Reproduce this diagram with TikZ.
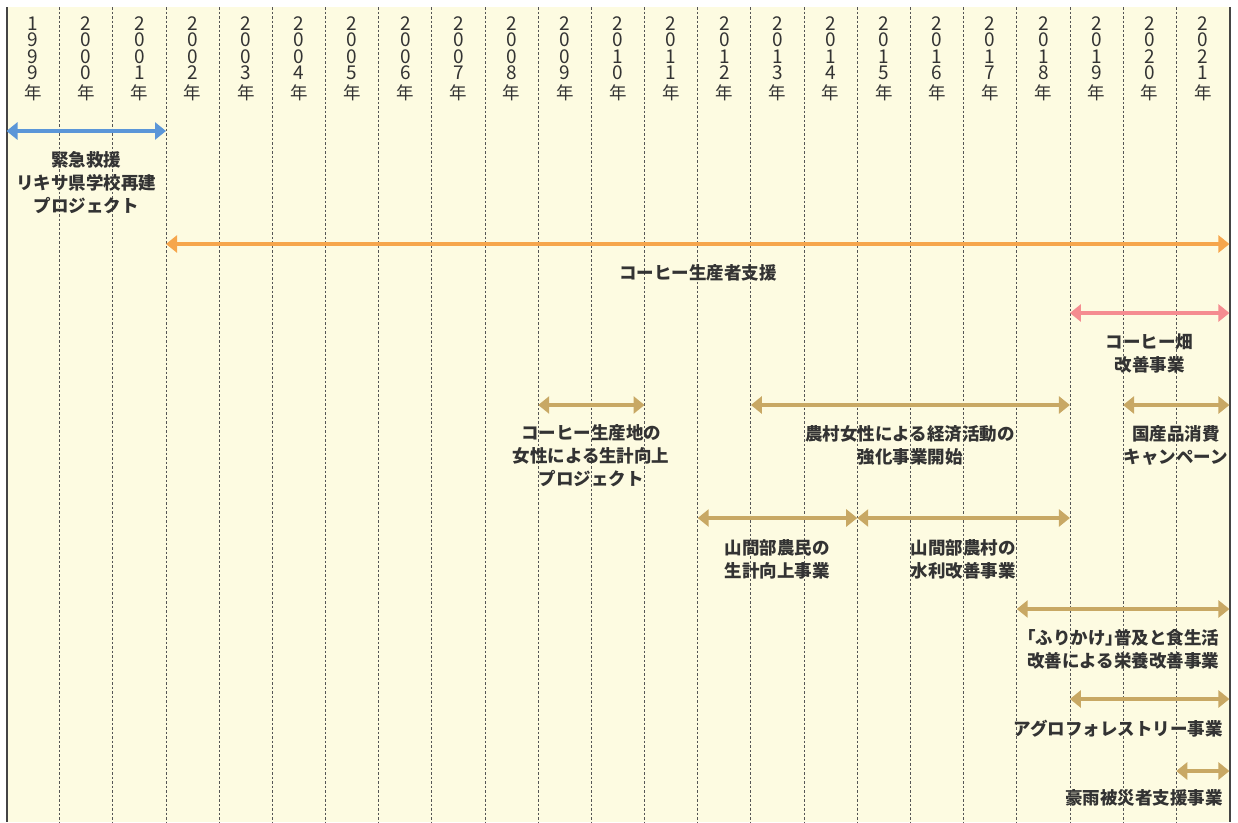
\documentclass[tikz,border=0pt]{standalone}
\usepackage{fontspec}
\newfontfamily\jp{Noto Sans CJK JP}
\newfontfamily\jph{Noto Sans CJK JP}[RawFeature=+halt]
\usetikzlibrary{arrows.meta}
\definecolor{bg}{HTML}{FDFBE1}
\definecolor{gridc}{HTML}{555555}
\definecolor{borderc}{HTML}{444444}
\definecolor{txt}{HTML}{333333}
\definecolor{cblue}{HTML}{5B96D8}
\definecolor{corange}{HTML}{F6A64C}
\definecolor{cpink}{HTML}{F58C90}
\definecolor{cgold}{HTML}{C8A864}
\tikzset{
  spanarrow/.style={line width=3.5pt, {Triangle[length=11pt,width=17pt]}-{Triangle[length=11pt,width=17pt]}},
  lbl/.style={font=\jp\bfseries\fontsize{17.5}{23}\selectfont, text=txt, align=center, inner sep=0pt},
  yr/.style={font=\jp\fontsize{19}{16.5}\selectfont, text=txt, inner sep=0pt, anchor=north, align=center},
  gridline/.style={gridc, line width=0.8pt, dash pattern=on 2.5pt off 2pt},
  borderline/.style={borderc, line width=2pt},
}
\newcommand{\gx}[1]{6.5+53.17*#1}
\newcommand{\nen}{{\fontsize{17.5}{17.5}\selectfont 年}}
\begin{document}
\begin{tikzpicture}[x=1pt,y=-1pt]
\useasboundingbox (0,0) rectangle (1238,822);
\fill[bg] (6.5,7) rectangle (1229.5,822);
% grid
\foreach \k in {1,...,22}{
  \coordinate (gt\k) at ({\gx{\k}},7);
  \coordinate (gb\k) at ({\gx{\k}},822);
  \draw[gridline] (gt\k) -- (gb\k);
}
\coordinate (lt) at (6.5,7); \coordinate (lb) at (6.5,822);
\coordinate (rt) at (1229.5,7); \coordinate (rb) at (1229.5,822);
\draw[borderline] (lt) -- (lb);
\draw[borderline] (rt) -- (rb);
% years
\foreach \i/\a/\b/\c/\d in {0/1/9/9/9,1/2/0/0/0,2/2/0/0/1,3/2/0/0/2,4/2/0/0/3,5/2/0/0/4,6/2/0/0/5,7/2/0/0/6,8/2/0/0/7,9/2/0/0/8,10/2/0/0/9,11/2/0/1/0,12/2/0/1/1,13/2/0/1/2,14/2/0/1/3,15/2/0/1/4,16/2/0/1/5,17/2/0/1/6,18/2/0/1/7,19/2/0/1/8,20/2/0/1/9,21/2/0/2/0,22/2/0/2/1}{
  \node[yr] (y\i) at ({\gx{(\i+0.5)}},16.5) {\a\\\b\\\c\\\d\\[3.5pt]\nen};
}
% arrows
\coordinate (a1s) at ({\gx{0}},131);  \coordinate (a1e) at ({\gx{3}},131);
\coordinate (a2s) at ({\gx{3}},244);  \coordinate (a2e) at ({\gx{23}},244);
\coordinate (a3s) at ({\gx{20}},313); \coordinate (a3e) at ({\gx{23}},313);
\coordinate (a4s) at ({\gx{10}},405); \coordinate (a4e) at ({\gx{12}},405);
\coordinate (a5s) at ({\gx{14}},405); \coordinate (a5e) at ({\gx{20}},405);
\coordinate (a6s) at ({\gx{21}},405); \coordinate (a6e) at ({\gx{23}},405);
\coordinate (a7s) at ({\gx{13}},518); \coordinate (a7e) at ({\gx{16}},518);
\coordinate (a8s) at ({\gx{16}},518); \coordinate (a8e) at ({\gx{20}},518);
\coordinate (a9s) at ({\gx{19}},609); \coordinate (a9e) at ({\gx{23}},609);
\coordinate (a10s) at ({\gx{20}},699); \coordinate (a10e) at ({\gx{23}},699);
\coordinate (a11s) at ({\gx{22}},771); \coordinate (a11e) at ({\gx{23}},771);
\draw[spanarrow, cblue] (a1s) -- (a1e);
\draw[spanarrow, corange] (a2s) -- (a2e);
\draw[spanarrow, cpink] (a3s) -- (a3e);
\draw[spanarrow, cgold] (a4s) -- (a4e);
\draw[spanarrow, cgold] (a5s) -- (a5e);
\draw[spanarrow, cgold] (a6s) -- (a6e);
\draw[spanarrow, cgold] (a7s) -- (a7e);
\draw[spanarrow, cgold] (a8s) -- (a8e);
\draw[spanarrow, cgold] (a9s) -- (a9e);
\draw[spanarrow, cgold] (a10s) -- (a10e);
\draw[spanarrow, cgold] (a11s) -- (a11e);
% labels
\node[lbl] (l1) at (86.3,182.5) {緊急救援\\リキサ県学校再建\\プロジェクト};
\node[lbl] (l2) at (697.8,273) {コーヒー生産者支援};
\node[lbl] (l3) at (1149.5,354) {コーヒー畑\\改善事業};
\node[lbl] (l4) at (591,456) {コーヒー生産地の\\女性による生計向上\\プロジェクト};
\node[lbl] (l5) at (910,445) {農村女性による経済活動の\\強化事業開始};
\node[lbl] (l6) at (1176,445) {国産品消費\\キャンペーン};
\node[lbl] (l7) at (777,559) {山間部農民の\\生計向上事業};
\node[lbl] (l8) at (963,559) {山間部農村の\\水利改善事業};
\node[lbl] (l9) at (1123,649.5) {{\jph\bfseries 「}ふりかけ{\jph\bfseries 」}普及と食生活\\改善による栄養改善事業};
\node[lbl, anchor=east, align=right] (l10) at (1223,729) {アグロフォレストリー事業};
\node[lbl, anchor=east, align=right] (l11) at (1223,798) {豪雨被災者支援事業};
\end{tikzpicture}
\end{document}
